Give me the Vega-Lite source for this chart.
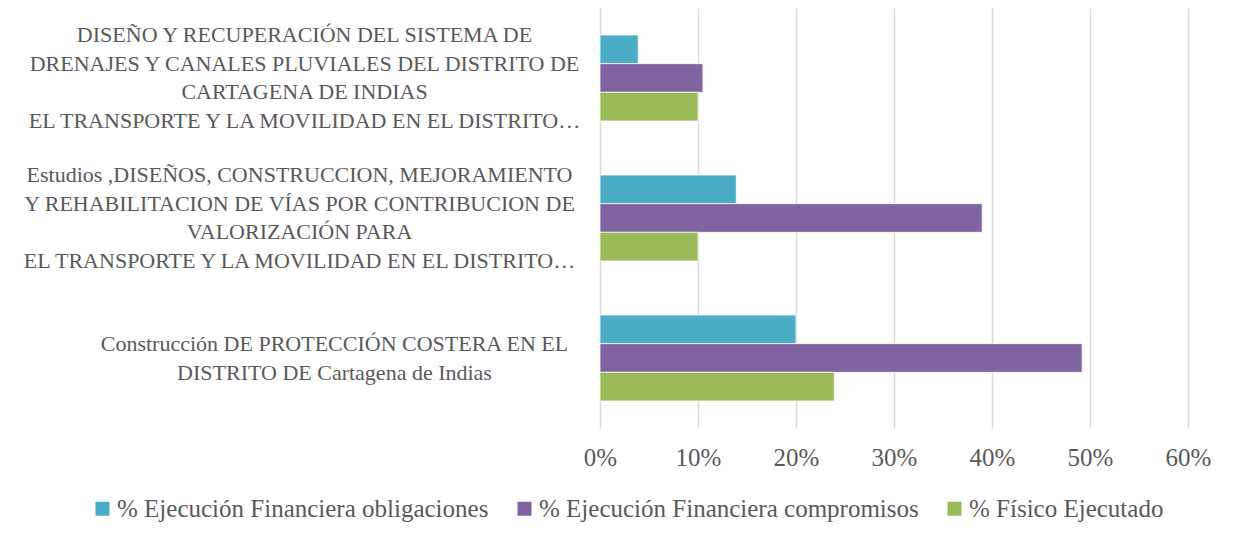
{
  "$schema": "https://vega.github.io/schema/vega-lite/v6.json",
  "width": 588,
  "height": 420,
  "autosize": {"type": "none"},
  "padding": {"left": 600, "top": 8, "right": 45, "bottom": 116},
  "background": "white",
  "config": {
    "view": {"stroke": null},
    "font": "Liberation Serif"
  },
  "data": {
    "values": [
      {"proyecto": "DISEÑO Y RECUPERACIÓN DEL SISTEMA DE|DRENAJES Y CANALES PLUVIALES DEL DISTRITO DE|CARTAGENA DE INDIAS| EL TRANSPORTE Y LA MOVILIDAD EN EL DISTRITO…", "serie": "% Ejecución Financiera obligaciones", "valor": 0.039},
      {"proyecto": "DISEÑO Y RECUPERACIÓN DEL SISTEMA DE|DRENAJES Y CANALES PLUVIALES DEL DISTRITO DE|CARTAGENA DE INDIAS| EL TRANSPORTE Y LA MOVILIDAD EN EL DISTRITO…", "serie": "% Ejecución Financiera compromisos", "valor": 0.105},
      {"proyecto": "DISEÑO Y RECUPERACIÓN DEL SISTEMA DE|DRENAJES Y CANALES PLUVIALES DEL DISTRITO DE|CARTAGENA DE INDIAS| EL TRANSPORTE Y LA MOVILIDAD EN EL DISTRITO…", "serie": "% Físico Ejecutado", "valor": 0.10},
      {"proyecto": "Estudios ,DISEÑOS, CONSTRUCCION, MEJORAMIENTO|Y REHABILITACION DE VÍAS POR CONTRIBUCION DE|VALORIZACIÓN PARA| EL TRANSPORTE Y LA MOVILIDAD EN EL DISTRITO…", "serie": "% Ejecución Financiera obligaciones", "valor": 0.139},
      {"proyecto": "Estudios ,DISEÑOS, CONSTRUCCION, MEJORAMIENTO|Y REHABILITACION DE VÍAS POR CONTRIBUCION DE|VALORIZACIÓN PARA| EL TRANSPORTE Y LA MOVILIDAD EN EL DISTRITO…", "serie": "% Ejecución Financiera compromisos", "valor": 0.39},
      {"proyecto": "Estudios ,DISEÑOS, CONSTRUCCION, MEJORAMIENTO|Y REHABILITACION DE VÍAS POR CONTRIBUCION DE|VALORIZACIÓN PARA| EL TRANSPORTE Y LA MOVILIDAD EN EL DISTRITO…", "serie": "% Físico Ejecutado", "valor": 0.10},
      {"proyecto": "Construcción DE PROTECCIÓN COSTERA EN EL|DISTRITO DE Cartagena de Indias", "serie": "% Ejecución Financiera obligaciones", "valor": 0.20},
      {"proyecto": "Construcción DE PROTECCIÓN COSTERA EN EL|DISTRITO DE Cartagena de Indias", "serie": "% Ejecución Financiera compromisos", "valor": 0.492},
      {"proyecto": "Construcción DE PROTECCIÓN COSTERA EN EL|DISTRITO DE Cartagena de Indias", "serie": "% Físico Ejecutado", "valor": 0.239}
    ]
  },
  "mark": {"type": "bar", "stroke": "white", "strokeWidth": 0.75},
  "encoding": {
    "y": {
      "field": "proyecto",
      "type": "nominal",
      "sort": null,
      "scale": {"paddingInner": 0.386, "paddingOuter": 0.193},
      "axis": {
        "title": null,
        "domain": false,
        "ticks": false,
        "labelExpr": "split(datum.label, '|')",
        "labelAlign": "center",
        "labelBaseline": "middle",
        "labelPadding": {"condition": [{"test": "length(datum.value) < 100", "value": 266}, {"test": "slice(datum.value, 0, 3) === 'Est'", "value": 301}], "value": 296},
        "labelOffset": {"condition": {"test": "length(datum.value) < 100", "value": -14}, "value": -43},
        "labelFontSize": 22,
        "labelLineHeight": 28.5,
        "labelColor": "#595959",
        "labelLimit": 0
      }
    },
    "yOffset": {
      "field": "serie",
      "type": "nominal",
      "sort": ["% Ejecución Financiera obligaciones", "% Ejecución Financiera compromisos", "% Físico Ejecutado"],
      "scale": {"paddingInner": 0, "paddingOuter": 0}
    },
    "x": {
      "field": "valor",
      "type": "quantitative",
      "scale": {"domain": [0, 0.6], "nice": false},
      "axis": {
        "title": null,
        "format": ".0%",
        "values": [0, 0.1, 0.2, 0.3, 0.4, 0.5, 0.6],
        "domain": false,
        "ticks": false,
        "grid": true,
        "gridColor": "#D9D9D9",
        "gridWidth": 1.5,
        "labelFontSize": 25,
        "labelFlush": false,
        "labelColor": "#595959",
        "labelPadding": 17
      }
    },
    "color": {
      "field": "serie",
      "type": "nominal",
      "scale": {
        "domain": ["% Ejecución Financiera obligaciones", "% Ejecución Financiera compromisos", "% Físico Ejecutado"],
        "range": ["#4BACC6", "#8064A2", "#9BBB59"]
      },
      "legend": {
        "title": null,
        "orient": "none",
        "direction": "horizontal",
        "legendX": -510,
        "legendY": 488,
        "symbolType": "square",
        "symbolSize": 196,
        "symbolStrokeWidth": 0,
        "labelFontSize": 25,
        "labelColor": "#595959",
        "labelOffset": 2,
        "columnPadding": 23,
        "labelLimit": 0
      }
    }
  }
}
